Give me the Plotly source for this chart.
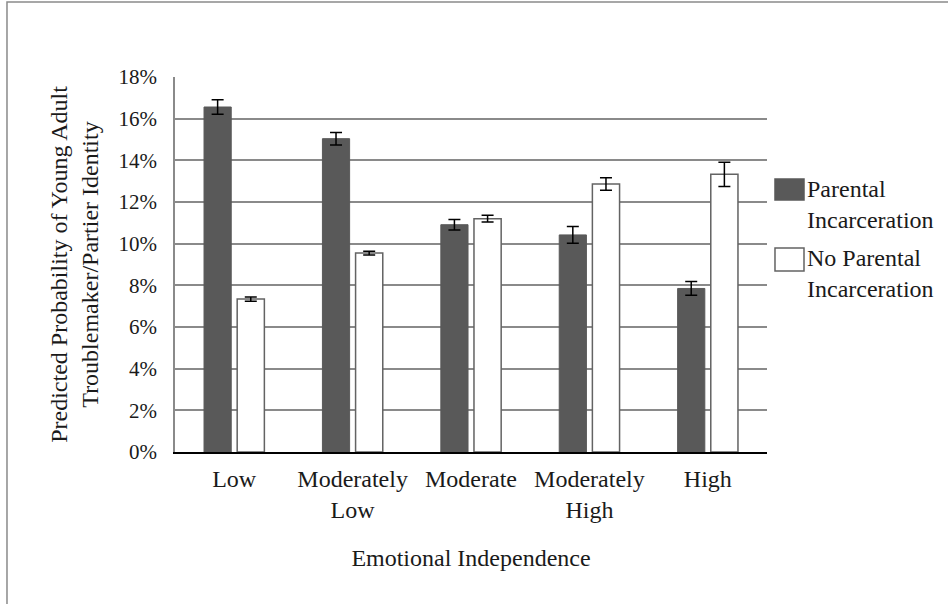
import plotly.graph_objects as go

# Emotional independence categories and predicted probabilities (%)
categories = ["Low", "Moderately<br>Low", "Moderate", "Moderately<br>High", "High"]
parental = [16.56, 15.04, 10.91, 10.42, 7.85]
parental_err = [0.35, 0.30, 0.25, 0.40, 0.33]
no_parental = [7.34, 9.55, 11.20, 12.87, 13.33]
no_parental_err = [0.10, 0.09, 0.16, 0.30, 0.58]
y_ticks = [0, 2, 4, 6, 8, 10, 12, 14, 16, 18]
y_tick_labels = ["0%", "2%", "4%", "6%", "8%", "10%", "12%", "14%", "16%", "18%"]
series_names = ["Parental<br>Incarceration", "No Parental<br>Incarceration"]

FONT = "Liberation Serif, Times New Roman, serif"
TEXT = "#1a1a1a"
DARK = "#595959"

fig = go.Figure()
fig.add_trace(go.Bar(
    x=categories, y=parental, name=series_names[0],
    marker=dict(color=DARK, line=dict(color=DARK, width=1)),
    error_y=dict(type="data", array=parental_err, color="black", thickness=1.5, width=6),
    showlegend=False,
))
fig.add_trace(go.Bar(
    x=categories, y=no_parental, name=series_names[1],
    marker=dict(color="white", line=dict(color="#636363", width=1.5)),
    error_y=dict(type="data", array=no_parental_err, color="black", thickness=1.5, width=6),
    showlegend=False,
))

# Legend swatches and labels placed to the right of the plot area
swatches = [
    dict(fill=DARK, line=DARK, y0=0.672, y1=0.728, ty=0.742),
    dict(fill="white", line="#636363", y0=0.483, y1=0.544, ty=0.557),
]
for sw, label in zip(swatches, series_names):
    fig.add_shape(type="rect", xref="paper", yref="paper",
                  x0=1.0135, x1=1.0625, y0=sw["y0"], y1=sw["y1"],
                  fillcolor=sw["fill"], line=dict(color=sw["line"], width=1.5))
    fig.add_annotation(xref="paper", yref="paper", x=1.064, y=sw["ty"],
                       xanchor="left", yanchor="top", align="left",
                       text=label, showarrow=False,
                       font=dict(family=FONT, size=24, color=TEXT))

# Outer chart border (left and top edges visible)
fig.add_shape(type="rect", xref="paper", yref="paper",
              x0=-0.2838, x1=1.40, y0=-0.45, y1=1.2,
              line=dict(color="#8a8a8a", width=1.5), fillcolor="rgba(0,0,0,0)",
              layer="below")

fig.update_layout(
    width=948, height=604,
    margin=dict(l=175, r=181, t=77, b=152),
    paper_bgcolor="white", plot_bgcolor="white",
    barmode="group", bargap=0.44, bargroupgap=0.18,
    font=dict(family=FONT, size=24, color=TEXT),
    xaxis=dict(
        showline=True, linecolor="black", linewidth=1.5,
        ticks="", showgrid=False, ticklabelstandoff=4,
        tickfont=dict(family=FONT, size=24, color=TEXT),
        title=dict(text="Emotional Independence", standoff=27,
                   font=dict(family=FONT, size=24, color=TEXT)),
    ),
    yaxis=dict(
        range=[0, 18], tickvals=y_ticks, ticktext=y_tick_labels,
        showgrid=True, gridcolor="#8a8a8a", gridwidth=1.5,
        showline=True, linecolor="#8a8a8a", linewidth=1.5,
        zeroline=False, ticks="", ticklabelstandoff=12,
        tickfont=dict(family=FONT, size=21, color=TEXT),
        title=dict(text="Predicted Probability of Young Adult<br>Troublemaker/Partier Identity",
                   standoff=13,
                   font=dict(family=FONT, size=24, color=TEXT)),
    ),
)

fig.write_html("out.html")
